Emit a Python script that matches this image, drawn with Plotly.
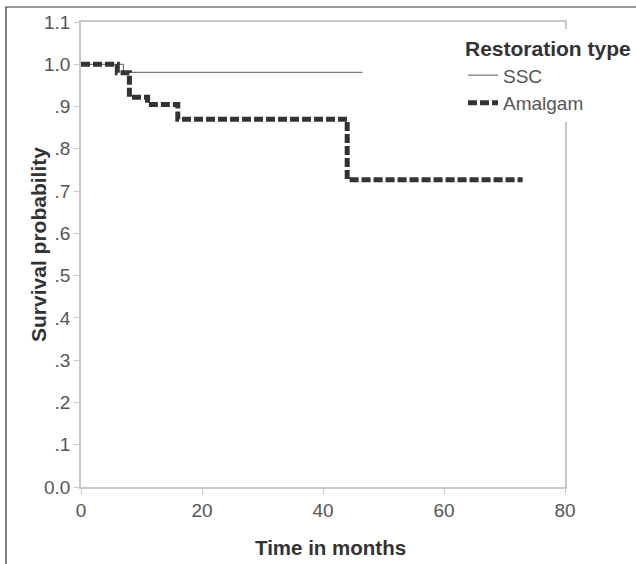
import plotly.graph_objects as go

# Data
ssc_time = [0, 7, 46.5]
ssc_surv = [1.0, 0.981, 0.981]

amalgam_time = [0, 6, 8, 11, 16, 44, 73]
amalgam_surv = [1.0, 0.98, 0.922, 0.905, 0.87, 0.727, 0.727]

y_tickvals = [0.0, 0.1, 0.2, 0.3, 0.4, 0.5, 0.6, 0.7, 0.8, 0.9, 1.0, 1.1]
y_ticktext = ["0.0", ".1", ".2", ".3", ".4", ".5", ".6", ".7", ".8", ".9", "1.0", "1.1"]
x_tickvals = [0, 20, 40, 60, 80]

FONT = "Liberation Sans, Arial, sans-serif"

fig = go.Figure()
fig.add_trace(go.Scatter(
    x=ssc_time, y=ssc_surv, mode="lines", name="SSC",
    line=dict(color="#555555", width=1, shape="hv"),
))
fig.add_trace(go.Scatter(
    x=amalgam_time, y=amalgam_surv, mode="lines", name="Amalgam",
    line=dict(color="#333333", width=5, shape="hv", dash="9px,3px"),
))

L, R, T, B = 81, 71, 22, 77
W, H = 636, 564
pw, ph = W - L - R, H - T - B

def px_x(p):
    return (p - L) / pw

def px_y(p):
    return (H - B - p) / ph

fig.update_layout(
    width=W, height=H,
    margin=dict(l=L, r=R, t=T, b=B, autoexpand=False),
    paper_bgcolor="white", plot_bgcolor="white",
    font=dict(family=FONT, size=19, color="#555555"),
    showlegend=True,
    legend=dict(
        x=px_x(463), y=px_y(29), xanchor="left", yanchor="top",
        bgcolor="white", borderwidth=0,
        title=dict(text="<b>Restoration type</b>", font=dict(size=21, color="#333333"), side="top"),
        font=dict(size=19, color="#555555"),
        tracegroupgap=0, itemwidth=30,
    ),
    xaxis=dict(
        range=[0, 80], tickvals=x_tickvals, showgrid=False, zeroline=False,
        showline=True, linecolor="#c8c8c8", linewidth=1.5, mirror=True,
        ticks="outside", ticklen=5, tickcolor="#c8c8c8", automargin=False,
    ),
    yaxis=dict(
        range=[0, 1.1], tickvals=y_tickvals, ticktext=y_ticktext, showgrid=False, zeroline=False,
        showline=True, linecolor="#c8c8c8", linewidth=1.5, mirror=True,
        ticks="outside", ticklen=5, tickcolor="#c8c8c8", automargin=False,
    ),
    annotations=[
        dict(text="<b>Time in months</b>", xref="paper", yref="paper",
             x=px_x(330), y=px_y(547), xanchor="center", yanchor="middle",
             showarrow=False, font=dict(size=20.5, color="#333333")),
        dict(text="<b>Survival probability</b>", xref="paper", yref="paper",
             x=px_x(38), y=px_y(245), xanchor="center", yanchor="middle",
             textangle=-90, showarrow=False, font=dict(size=21, color="#333333")),
    ],
    shapes=[dict(
        type="rect", xref="paper", yref="paper",
        x0=px_x(6), x1=px_x(700), y0=px_y(700), y1=px_y(7),
        line=dict(color="#333333", width=1.2), fillcolor="rgba(0,0,0,0)", layer="above",
    )],
)

fig.write_html(
    "out.html",
    config={"displayModeBar": False},
    post_script="document.body.style.margin='0';document.body.style.overflow='hidden';",
)
